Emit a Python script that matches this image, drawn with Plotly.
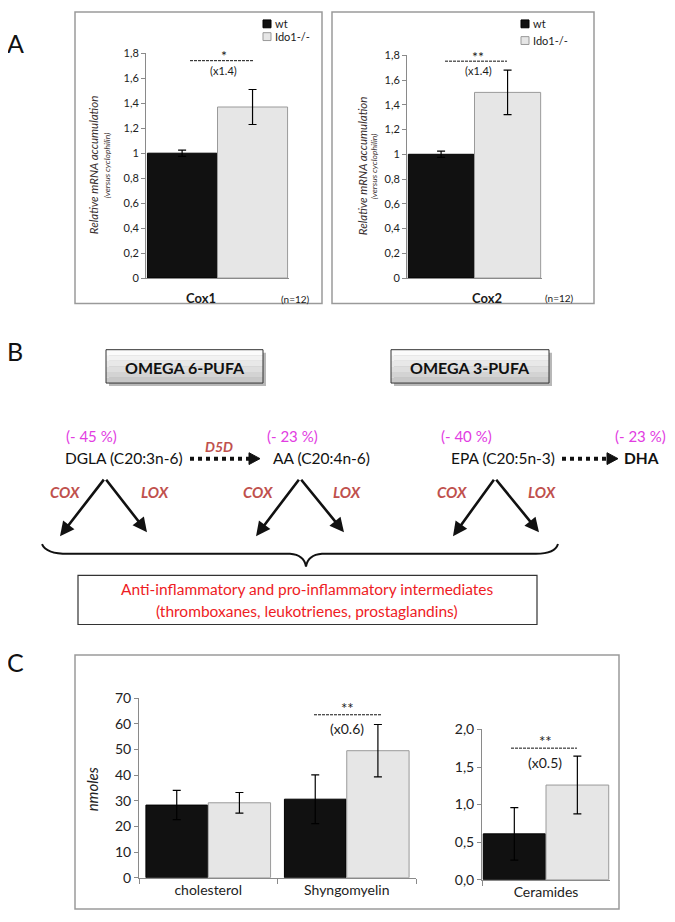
import plotly.graph_objects as go

# The page body adds an 8px margin around the figure, so the figure is sized
# 8px smaller and every reference pixel position is shifted by that margin.
PAGE_W, PAGE_H, BODY_MARGIN = 675, 922, 8
W, H = PAGE_W - BODY_MARGIN, PAGE_H - BODY_MARGIN
FONT = "Lato, Carlito, Calibri, sans-serif"

# ---------------- data ----------------
groups = ["wt", "Ido1-/-"]

# Panel A : relative mRNA accumulation
genes = ["Cox1", "Cox2"]
A_wt = [1.00, 1.00]
A_wt_err = [0.025, 0.025]
A_ido = [1.37, 1.50]
A_ido_err = [0.14, 0.18]
A_sig = ["*", "**"]
A_fold = ["(x1.4)", "(x1.4)"]
A_n = ["(n=12)", "(n=12)"]
A_ticks = [0, 0.2, 0.4, 0.6, 0.8, 1.0, 1.2, 1.4, 1.6, 1.8]
A_ticktext = ["0", "0,2", "0,4", "0,6", "0,8", "1", "1,2", "1,4", "1,6", "1,8"]

# Panel B : pathway
pufa_families = ["OMEGA 6-PUFA", "OMEGA 3-PUFA"]
compounds = ["DGLA (C20:3n-6)", "AA (C20:4n-6)", "EPA (C20:5n-3)", "DHA"]
changes = ["(- 45 %)", "(- 23 %)", "(- 40 %)", "(- 23 %)"]
enzymes = ["COX", "LOX"]
desaturase = "D5D"
products = ["Anti-inflammatory and pro-inflammatory intermediates",
            "(thromboxanes, leukotrienes, prostaglandins)"]

# Panel C : lipids (nmoles)
lipids = ["cholesterol", "Shyngomyelin"]
C_wt = [28.3, 30.6]
C_wt_err = [5.7, 9.5]
C_ido = [29.2, 49.5]
C_ido_err = [4.0, 10.2]
C_sig = ["", "**"]
C_fold = ["", "(x0.6)"]
C_ticks = [0, 10, 20, 30, 40, 50, 60, 70]

cer = ["Ceramides"]
cer_wt = [0.61]
cer_wt_err = [0.35]
cer_ido = [1.26]
cer_ido_err = [0.385]
cer_sig = ["**"]
cer_fold = ["(x0.5)"]
cer_ticks = [0, 0.5, 1.0, 1.5, 2.0]
cer_ticktext = ["0,0", "0,5", "1,0", "1,5", "2,0"]

# ---------------- helpers ----------------
def px(x):
    return (x - BODY_MARGIN) / W

def py(y):
    return 1 - (y - BODY_MARGIN) / H

BLACK_BAR = "#111111"
GRAY_BAR = "#e6e6e6"
AX = "#8a8a8a"

fig = go.Figure()
annotations = []
shapes = []

def ann(x, y, text, size=12, color="#1a1a1a", xanchor="center", angle=0, bold=False, italic=False):
    t = text
    if bold:
        t = "<b>" + t + "</b>"
    if italic:
        t = "<i>" + t + "</i>"
    annotations.append(dict(x=px(x), y=py(y), xref="paper", yref="paper", text=t,
                            showarrow=False, xanchor=xanchor, yanchor="middle",
                            textangle=angle, font=dict(family=FONT, size=size, color=color)))

def bar_pair(cat, wt, wte, ido, idoe, xa, ya, off, wid, capw):
    fig.add_trace(go.Bar(x=cat, y=wt, name=groups[0], xaxis=xa, yaxis=ya, showlegend=False,
                         offset=off[0], width=wid[0],
                         marker=dict(color=BLACK_BAR, line=dict(color="#000000", width=1)),
                         error_y=dict(type="data", array=wte, color="#000000", thickness=1.2, width=capw)))
    fig.add_trace(go.Bar(x=cat, y=ido, name=groups[1], xaxis=xa, yaxis=ya, showlegend=False,
                         offset=off[1], width=wid[1],
                         marker=dict(color=GRAY_BAR, line=dict(color="#9a9a9a", width=1)),
                         error_y=dict(type="data", array=idoe, color="#000000", thickness=1.2, width=capw)))

# ---------------- Panel A ----------------
bar_pair([genes[0]], [A_wt[0]], [A_wt_err[0]], [A_ido[0]], [A_ido_err[0]], "x", "y",
         (-0.49, 0.0), (0.485, 0.49), 4)
bar_pair([genes[1]], [A_wt[1]], [A_wt_err[1]], [A_ido[1]], [A_ido_err[1]], "x2", "y2",
         (-0.49, 0.0), (0.485, 0.49), 4)

# ---------------- Panel C ----------------
bar_pair(lipids, C_wt, C_wt_err, C_ido, C_ido_err, "x3", "y3",
         (-0.45, 0.0), (0.445, 0.45), 4)
bar_pair(cer, cer_wt, cer_wt_err, cer_ido, cer_ido_err, "x4", "y4",
         (-0.49, 0.0), (0.485, 0.49), 4)

def xax(x0, x1, y_anchor, ticks="", showlabels=False, size=14, boundaries=False):
    d = dict(domain=[px(x0), px(x1)], anchor=y_anchor, type="category",
             showline=True, linecolor=AX, linewidth=1, showgrid=False, zeroline=False,
             ticks=ticks, ticklen=5, tickcolor=AX, showticklabels=showlabels,
             tickfont=dict(family=FONT, size=size, color="#222"), fixedrange=True)
    if boundaries:
        d["tickson"] = "boundaries"
    return d

def yax(y0, y1, x_anchor, rng, tv, tt, size):
    return dict(domain=[py(y1), py(y0)], anchor=x_anchor, range=rng, showline=True,
                linecolor=AX, linewidth=1, ticks="outside", ticklen=4, tickcolor=AX,
                tickvals=tv, ticktext=tt, showgrid=False, zeroline=False,
                tickfont=dict(family=FONT, size=size, color="#222"), fixedrange=True)

xa1 = xax(146, 289, "y"); xa1["range"] = [-0.5, 0.5]
xa2 = xax(407, 542, "y2"); xa2["range"] = [-0.5, 0.5]
xa3 = xax(139, 416, "y3", ticks="outside", showlabels=True, size=14, boundaries=True); xa3["range"] = [-0.5, 1.5]
xa4 = xax(482, 610, "y4", ticks="outside", showlabels=True, size=14, boundaries=True); xa4["range"] = [-0.5, 0.5]

ya1 = yax(45, 274, "x", [0, 1.8], A_ticks, A_ticktext, 11)
ya2 = yax(47, 274, "x2", [0, 1.8], A_ticks, A_ticktext, 11)
ya3 = yax(702, 885, "x3", [0, 70], C_ticks, [str(v) for v in C_ticks], 14)
ya4 = yax(734, 887, "x4", [0, 2.0], cer_ticks, cer_ticktext, 14)

# frames
def rect(x0, y0, x1, y1, line="#9a9a9a", width=1.5, fill="rgba(0,0,0,0)"):
    shapes.append(dict(type="rect", xref="paper", yref="paper", x0=px(x0), x1=px(x1),
                       y0=py(y1), y1=py(y0), line=dict(color=line, width=width), fillcolor=fill,
                       layer="below"))

rect(75, 3, 322, 300)
rect(332, 3, 594, 300)
rect(75, 658, 619, 917)

# panel letters
ann(15, 35, "A", size=25, color="#111")
ann(15, 348, "B", size=25, color="#111")
ann(15, 665, "C", size=25, color="#111")

for (tx, tx2, cy) in [(93, 107, 159), (362, 374, 160)]:
    ann(tx, cy, "Relative mRNA accumulation", size=11.5, color="#3a3030", angle=-90, italic=True)
    ann(tx2, cy, "(versus cyclophilin)", size=8.5, color="#3a3030", angle=-90, italic=True)

# legends (per chart)
for (lx, y1, y2) in [(263, 15, 28), (521, 15, 32)]:
    shapes.append(dict(type="rect", xref="paper", yref="paper", x0=px(lx), x1=px(lx + 8),
                       y0=py(y1 + 4), y1=py(y1 - 4), fillcolor=BLACK_BAR, line=dict(color="#000", width=1)))
    shapes.append(dict(type="rect", xref="paper", yref="paper", x0=px(lx), x1=px(lx + 8),
                       y0=py(y2 + 4), y1=py(y2 - 4), fillcolor=GRAY_BAR, line=dict(color="#999", width=1)))
    ann(lx + 10, y1, groups[0], size=11, xanchor="left")
    ann(lx + 10, y2, groups[1], size=11, xanchor="left")

# category labels / n
ann(201, 294, genes[0], size=13, bold=True)
ann(487, 294, genes[1], size=13, bold=True)
ann(295, 295, A_n[0], size=10)
ann(559, 294, A_n[1], size=10)

def sig(cx, ys, yl, yf, x0, x1, s, f, size, ssize):
    ann(cx, ys, s, size=ssize)
    shapes.append(dict(type="line", xref="paper", yref="paper", x0=px(x0), x1=px(x1),
                       y0=py(yl), y1=py(yl), line=dict(color="#111", width=1, dash="3px,1px")))
    ann(cx, yf, f, size=size)

sig(224, 47, 52.5, 63, 190, 253, A_sig[0], A_fold[0], 11, 14)
sig(478, 48, 53, 63, 445, 507, A_sig[1], A_fold[1], 11, 14)
sig(347, 712, 719, 733, 314, 381, C_sig[1], C_fold[1], 14, 15)
sig(545, 746, 753, 768, 511, 577, cer_sig[0], cer_fold[0], 14, 15)

ann(92, 795, "nmoles", size=15, angle=-90, italic=True, color="#222")

# ---------------- Panel B ----------------
def omega_box(x0, x1, y0, y1, text):
    # drop shadow
    shapes.append(dict(type="rect", xref="paper", yref="paper", x0=px(x0 + 3), x1=px(x1 + 3),
                       y0=py(y1 + 3), y1=py(y0 + 3), fillcolor="#b8b8b8", line=dict(width=0)))
    n = 6
    cols = ["#fbfbfb", "#f2f2f2", "#e8e8e8", "#dedede", "#d3d3d3", "#c8c8c8"]
    h = (y1 - y0) / n
    for i in range(n):
        shapes.append(dict(type="rect", xref="paper", yref="paper", x0=px(x0), x1=px(x1),
                           y0=py(y0 + (i + 1) * h), y1=py(y0 + i * h), fillcolor=cols[i], line=dict(width=0)))
    shapes.append(dict(type="rect", xref="paper", yref="paper", x0=px(x0), x1=px(x1),
                       y0=py(y1), y1=py(y0), line=dict(color="#333", width=1)))
    ann((x0 + x1) / 2, (y0 + y1) / 2 + 1, text, size=16, bold=True, color="#111")

omega_box(106, 263, 347, 381, pufa_families[0])
omega_box(391, 549, 347, 381, pufa_families[1])

MAG = "#e23ce2"
ENZ = "#c0504d"
ann(91, 435, changes[0], size=15, color=MAG)
ann(292, 435, changes[1], size=15, color=MAG)
ann(467, 435, changes[2], size=15, color=MAG)
ann(668, 435, changes[3], size=15, color=MAG, xanchor="right")

ann(63, 457, compounds[0], size=15.5, xanchor="left", color="#111")
ann(271, 457, compounds[1], size=15.5, xanchor="left", color="#111")
ann(449, 457, compounds[2], size=15.5, xanchor="left", color="#111")
ann(622, 457, compounds[3], size=15.5, xanchor="left", bold=True, color="#111")
ann(219, 446, desaturase, size=14, color=ENZ, bold=True, italic=True)

def dotted_arrow(x0, x1, y):
    shapes.append(dict(type="line", xref="paper", yref="paper", x0=px(x0), x1=px(x1 - 10),
                       y0=py(y), y1=py(y), line=dict(color="#111", width=4, dash="dot")))
    shapes.append(dict(type="path", xref="paper", yref="paper",
                       path=f"M {px(x1 - 11)},{py(y - 6)} L {px(x1)},{py(y)} L {px(x1 - 11)},{py(y + 6)} Z",
                       fillcolor="#111", line=dict(color="#111", width=1)))

dotted_arrow(190, 260, 458)
dotted_arrow(562, 618, 458)

# COX / LOX split arrows
splits = [
    # apex, left tip, right tip, COX centre, LOX centre
    ((105, 479), (60, 537), (147, 533), 65, 155),
    ((300, 479), (256, 537), (344, 533), 258, 347),
    ((495, 479), (453, 537), (539, 533), 452, 542),
]
for apex, lt, rt, cx, lx in splits:
    for tip in (lt, rt):
        annotations.append(dict(x=px(tip[0]), y=py(tip[1]), xref="paper", yref="paper",
                                ax=apex[0] - tip[0], ay=apex[1] - tip[1], axref="pixel", ayref="pixel",
                                text="", showarrow=True, arrowhead=2, arrowsize=1.1,
                                arrowwidth=2.6, arrowcolor="#111"))
    ann(cx, 492, enzymes[0], size=15, color=ENZ, bold=True, italic=True)
    ann(lx, 492, enzymes[1], size=15, color=ENZ, bold=True, italic=True)

# brace
bp = (f"M {px(42)},{py(545)} Q {px(46)},{py(555)} {px(68)},{py(555)} "
      f"L {px(290)},{py(555)} Q {px(304)},{py(556)} {px(306)},{py(568)} "
      f"Q {px(308)},{py(556)} {px(322)},{py(555)} "
      f"L {px(536)},{py(555)} Q {px(555)},{py(555)} {px(558)},{py(545)}")
shapes.append(dict(type="path", xref="paper", yref="paper", path=bp, line=dict(color="#111", width=2)))

# products box
rect(78, 577, 537, 627, line="#333", width=1.2)
ann(307, 591, products[0], size=15.5, color="#ee1c24")
ann(307, 613, products[1], size=15.5, color="#ee1c24")

fig.update_layout(
    width=W, height=H, margin=dict(l=0, r=0, t=0, b=0),
    paper_bgcolor="white", plot_bgcolor="rgba(0,0,0,0)",
    barmode="overlay", showlegend=False,
    xaxis=xa1, yaxis=ya1, xaxis2=xa2, yaxis2=ya2,
    xaxis3=xa3, yaxis3=ya3, xaxis4=xa4, yaxis4=ya4,
    annotations=annotations, shapes=shapes,
    font=dict(family=FONT),
)

fig.write_html("out.html")
